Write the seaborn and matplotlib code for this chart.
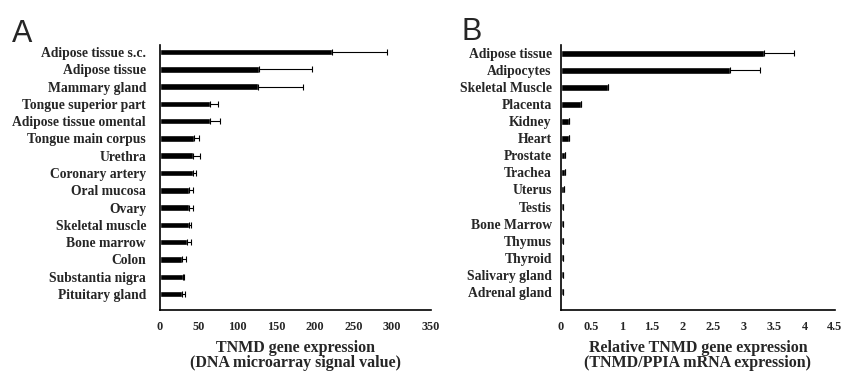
import numpy as np
import pandas as pd
import matplotlib
import matplotlib.pyplot as plt
import seaborn as sns

matplotlib.use("Agg")

# Panel A: DNA microarray signal values
A_TISSUES = [
    "Adipose tissue s.c.", "Adipose tissue", "Mammary gland",
    "Tongue superior part", "Adipose tissue omental", "Tongue main corpus",
    "Urethra", "Coronary artery", "Oral mucosa", "Ovary", "Skeletal muscle",
    "Bone marrow", "Colon", "Substantia nigra", "Pituitary gland",
]
A_VALUES = [222, 128, 126, 65, 65, 44, 43, 42, 38, 37, 37, 34.5, 29, 30, 28]
A_ERRORS = [71, 68, 59, 10, 13, 6, 9, 5, 5, 6, 3, 5.5, 4, 1, 4]
A_TICKS = [0, 50, 100, 150, 200, 250, 300, 350]

# Panel B: relative TNMD/PPIA mRNA expression
B_TISSUES = [
    "Adipose tissue", "Adipocytes", "Skeletal Muscle", "Placenta", "Kidney",
    "Heart", "Prostate", "Trachea", "Uterus", "Testis", "Bone Marrow",
    "Thymus", "Thyroid", "Salivary gland", "Adrenal gland",
]
B_VALUES = [3.33, 2.78, 0.77, 0.34, 0.14, 0.14, 0.07, 0.07, 0.05, 0.04,
            0.04, 0.04, 0.03, 0.03, 0.03]
B_ERRORS = [0.50, 0.49, 0, 0, 0, 0, 0, 0, 0, 0, 0, 0, 0, 0, 0]
B_TICKS = [0, 0.5, 1, 1.5, 2, 2.5, 3, 3.5, 4, 4.5]
B_TICKLABELS = ["0", "0.5", "1", "1.5", "2", "2.5", "3", "3.5", "4", "4.5"]

SERIF = ["Liberation Serif", "DejaVu Serif"]

sns.set_style("white")
plt.rcParams["font.family"] = SERIF


def draw_panel(ax, tissues, values, errors, ticks, ticklabels, xmax,
               ylim, label_pad, xlabel):
    df = pd.DataFrame({"tissue": tissues, "value": values})
    sns.barplot(data=df, x="value", y="tissue", orient="h", color="black",
                width=0.38, ax=ax, saturation=1, errorbar=None)
    pos = np.arange(len(tissues))
    ax.errorbar(values, pos, xerr=[np.zeros(len(values)), errors], fmt="none",
                ecolor="black", elinewidth=0.8, capsize=2, capthick=0.8)
    ax.set_xlim(0, xmax)
    ax.set_ylim(*ylim)
    ax.set_xticks(ticks)
    ax.set_xticklabels(ticklabels, fontweight="bold", fontsize=8.8)
    for lab in ax.get_yticklabels():
        lab.set_fontweight("bold")
        lab.set_fontsize(9.8)
    ax.tick_params(axis="y", length=0, pad=label_pad)
    ax.tick_params(axis="x", direction="in", length=2.5, width=1, pad=8)
    ax.set_ylabel("")
    ax.set_xlabel(xlabel, fontweight="bold", fontsize=11.5, linespacing=0.95,
                  labelpad=5)
    for side in ["top", "right"]:
        ax.spines[side].set_visible(False)
    for side in ["left", "bottom"]:
        ax.spines[side].set_linewidth(1.2)
        ax.spines[side].set_color("black")


fig = plt.figure(figsize=(8.45, 3.73), dpi=100)
ax_a = fig.add_axes([160 / 845, 1 - 310 / 373, 271 / 845, 265 / 373])
ax_b = fig.add_axes([560.7 / 845, 1 - 310 / 373, 274.3 / 845, 265 / 373])

draw_panel(ax_a, A_TISSUES, A_VALUES, A_ERRORS, A_TICKS,
           [str(t) for t in A_TICKS], 350, (14.92, -0.4), 10,
           "TNMD gene expression\n(DNA microarray signal value)")
draw_panel(ax_b, B_TISSUES, B_VALUES, B_ERRORS, B_TICKS, B_TICKLABELS, 4.5,
           (15.08, -0.49), 6.5,
           "Relative TNMD gene expression\n(TNMD/PPIA mRNA expression)")

fig.text(12 / 845, 1 - 42 / 373, "A", fontsize=22,
         family=["Liberation Sans", "DejaVu Sans"])
fig.text(462 / 845, 1 - 40 / 373, "B", fontsize=22,
         family=["Liberation Sans", "DejaVu Sans"])

fig.savefig("out.png", dpi=100)
